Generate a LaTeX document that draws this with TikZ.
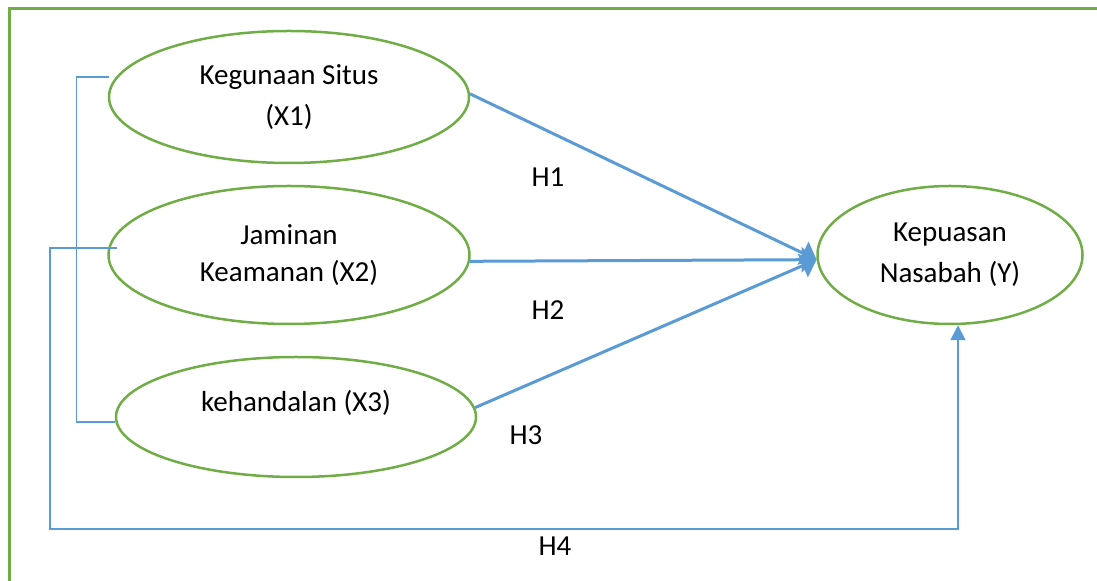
\documentclass[tikz,border=0pt]{standalone}
\usepackage{fontspec}
\setmainfont{Carlito}
\usetikzlibrary{arrows.meta,shapes.geometric,calc}
\definecolor{leafgreen}{HTML}{70AD47}
\definecolor{skyblue}{HTML}{5B9BD5}
\tikzset{
  varbox/.style={draw=leafgreen, line width=1.25pt, ellipse, inner sep=0pt,
    align=center, font=\fontsize{14.5}{20.5}\selectfont},
  hypo/.style={draw=skyblue, line width=1.5pt,
    -{Triangle[length=7.5pt,width=12.5pt]}},
  thinlink/.style={draw=skyblue, line width=0.7pt},
  hlabel/.style={font=\fontsize{14.5}{16}\selectfont}
}

\begin{document}
\begin{tikzpicture}[x=0.5pt,y=-0.5pt]
            \useasboundingbox (0,0) rectangle (1097,581);
            \draw[leafgreen, line width=1.5pt] (9,600) |- (1110,9);

            \node[varbox, minimum width=180pt, minimum height=66pt] (x1) at (289,97) {Kegunaan Situs\\(X1)};
            \node[varbox, minimum width=180.5pt, minimum height=69pt] (x2) at (289,255) {Jaminan\\[-2pt]Keamanan (X2)};
            \node[varbox, minimum width=180pt, minimum height=60pt] (x3) at (296,417) {kehandalan (X3)\\[-4pt]\mbox{}};
            \node[varbox, minimum width=132.5pt, minimum height=69pt] (y) at (950,255) {Kepuasan\\Nasabah (Y)};

            \node[hlabel] (h1) at (548,177) {H1};
            \node[hlabel] (h2) at (548,310) {H2};
            \node[hlabel] (h3) at (526,435) {H3};
            \node[hlabel] (h4) at (555,546) {H4};

            \coordinate (h4bend) at (50,529);

            \draw[hypo] (x1.1) -- (y.182.6);
            \draw[hypo] (x2.-2.4) -- (y.182.6);
            \draw[hypo] (x3.3) -- (y.182.6);

            \draw[thinlink] ($(x1.west)+(1,-20)$)
                -- ++(-32,0)
                |- ($(x3.west)+(0,5)$);

            \draw[thinlink, line width=0.9pt, -{Triangle[length=7.5pt,width=7.5pt]}]
                ($(x2.west)+(10,-7)$)
                -| (h4bend)
                -| ($(y.south)+(8,0)$);
        \end{tikzpicture}
\end{document}
